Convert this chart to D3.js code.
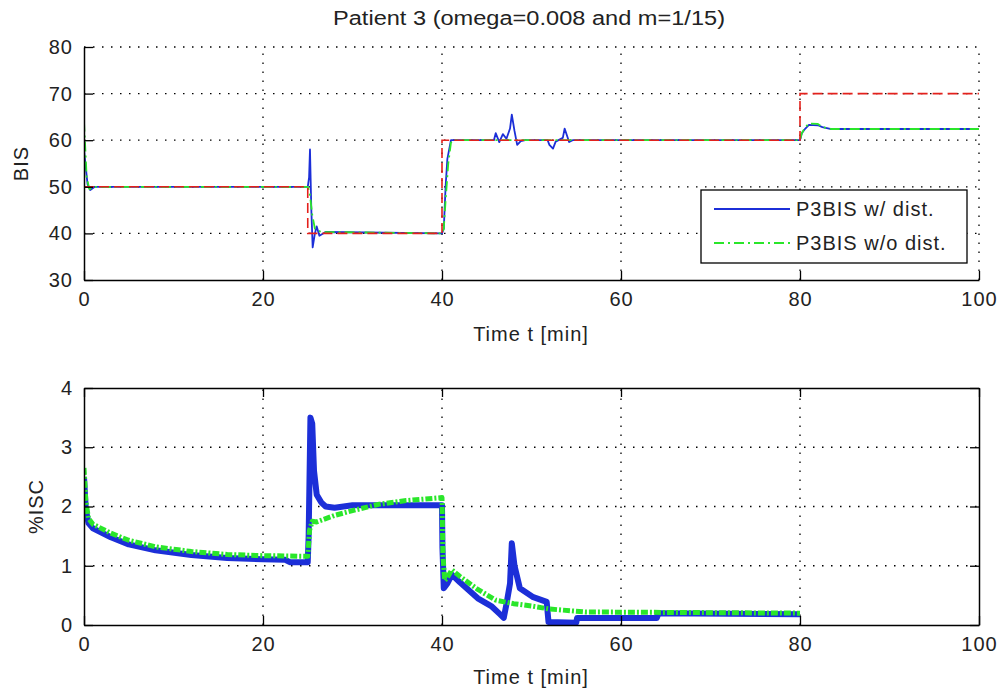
<!DOCTYPE html>
<html>
<head>
<meta charset="utf-8">
<script src="https://cdn.jsdelivr.net/npm/d3@7"></script>
<style>
  body { margin: 0; background: #fff; }
  svg text { font-family: "Liberation Sans", Arial, sans-serif; fill: #222; }
</style>
</head>
<body>
<div id="chart"></div>
<script>
// ---- data ----
var xTicks = [0, 20, 40, 60, 80, 100];
var bisTicks = [30, 40, 50, 60, 70, 80];
var iscTicks = [0, 1, 2, 3, 4];

// BIS reference (step target)
var refT = [0, 25, 40, 80, 100];
var refBis = [50, 40, 60, 70, 70];

// BIS with disturbance [t, BIS]
var bisWithDist = [
  [0, 58], [0.15, 55], [0.4, 50.5], [0.7, 49.3], [1.2, 50], [25, 50],
  [25.15, 52], [25.25, 58], [25.4, 45], [25.55, 37], [25.8, 40], [26, 41.5],
  [26.3, 39.5], [27, 40.3], [40, 40], [40.2, 41], [40.4, 50], [40.6, 56],
  [41, 60], [45.8, 60], [46, 61.5], [46.4, 59.6], [46.8, 61.3], [47.2, 60.3],
  [47.6, 62.5], [47.8, 65.5], [48.1, 62], [48.4, 59], [48.8, 59.8], [49.3, 60],
  [51.8, 60], [52, 59], [52.4, 58.2], [52.7, 59.7], [53.5, 60.5], [53.7, 62.5],
  [54, 60.8], [54.2, 59.6], [54.6, 60], [80, 60], [80.2, 61.5], [80.6, 62.5],
  [81, 63.3], [82, 63.2], [82.5, 62.8], [83.5, 62.4], [100, 62.4]
];

// BIS without disturbance [t, BIS]
var bisWithoutDist = [
  [0, 64], [0.1, 60], [0.3, 52], [0.6, 49.5], [1.2, 50], [25, 50],
  [25.2, 49], [25.5, 44], [25.8, 41], [26.5, 40.3], [40, 40], [40.2, 41],
  [40.4, 47], [40.7, 55], [41, 59.5], [41.5, 60], [80, 60], [80.2, 61.5],
  [80.6, 62.8], [81, 63.6], [82, 63.5], [82.5, 62.8], [83.5, 62.4], [100, 62.4]
];

// %ISC with disturbance [t, %ISC]
var iscWithDist = [
  [0, 2.5], [0.2, 1.95], [0.5, 1.72], [1, 1.63], [3, 1.48], [5, 1.36],
  [8, 1.26], [12, 1.18], [16, 1.13], [20, 1.11], [22.5, 1.1], [23, 1.06],
  [25, 1.06], [25.1, 1.5], [25.3, 3.5], [25.5, 3.4], [25.7, 2.6], [26, 2.2],
  [26.5, 2.07], [27, 2.0], [28, 1.98], [30, 2.02], [40, 2.02], [40.05, 1.3],
  [40.2, 0.62], [40.6, 0.7], [41.1, 0.85], [42, 0.72], [44, 0.45], [45.5, 0.32],
  [46.5, 0.18], [46.9, 0.12], [47.2, 0.35], [47.6, 0.7], [47.8, 1.38], [48.1, 1.0],
  [48.7, 0.62], [50.2, 0.47], [51.7, 0.39], [51.9, 0.05], [55, 0.04], [55.1, 0.12],
  [64, 0.12], [64.2, 0.2], [80, 0.18]
];

// %ISC without disturbance [t, %ISC]
var iscWithoutDist = [
  [0, 2.65], [0.2, 2.1], [0.5, 1.8], [1, 1.7], [3, 1.55], [5, 1.43],
  [8, 1.32], [12, 1.24], [16, 1.19], [20, 1.17], [25, 1.16], [25.2, 1.6],
  [25.5, 1.75], [26, 1.74], [28, 1.85], [30, 1.93], [33, 2.04], [36, 2.1],
  [40, 2.15], [40.1, 1.2], [40.3, 0.75], [40.6, 0.8], [41.1, 0.93], [42, 0.82],
  [44, 0.6], [46, 0.42], [48, 0.36], [50, 0.32], [52, 0.27], [56, 0.22], [80, 0.2]
];

var legendNames = ["P3BIS w/ dist.", "P3BIS w/o dist."];
var titleText = "Patient 3 (omega=0.008 and m=1/15)";

// ---- layout ----
var W = 998, H = 692;
var left = 84, right = 979;
var topPanel = { top: 47, bottom: 280 };
var botPanel = { top: 388, bottom: 625 };

var blue = "#1c2fd8", green = "#2ae62a", red = "#e3211c";
var dotted = "1.5,7.5";

var svg = d3.select("#chart").append("svg")
  .attr("width", W).attr("height", H);

var x = d3.scaleLinear().domain([0, 100]).range([left, right]);
var yBis = d3.scaleLinear().domain([30, 80]).range([topPanel.bottom, topPanel.top]);
var yIsc = d3.scaleLinear().domain([0, 4]).range([botPanel.bottom, botPanel.top]);

// clip paths
[["clipTop", topPanel], ["clipBot", botPanel]].forEach(function (c) {
  svg.append("clipPath").attr("id", c[0]).append("rect")
    .attr("x", left).attr("y", c[1].top - 2)
    .attr("width", right - left + 2).attr("height", c[1].bottom - c[1].top + 4);
});

function grid(y, yVals, xVals, p) {
  var g = svg.append("g").attr("class", "grid")
    .attr("stroke", "#000").attr("stroke-width", 1.3)
    .attr("stroke-dasharray", dotted);
  g.selectAll("line.h").data(yVals).enter().append("line")
    .attr("x1", left).attr("x2", right)
    .attr("y1", function (d) { return y(d); }).attr("y2", function (d) { return y(d); });
  g.selectAll("line.v").data(xVals).enter().append("line")
    .attr("y1", p.bottom).attr("y2", p.top)
    .attr("x1", function (d) { return x(d); }).attr("x2", function (d) { return x(d); });
}

function styleAxis(g, labels) {
  g.select(".domain").attr("stroke", "#000").attr("stroke-width", 1.5);
  g.selectAll(".tick line").attr("stroke", "#000").attr("stroke-width", 1.3);
  g.selectAll(".tick text").attr("font-size", 20).attr("letter-spacing", 1)
    .attr("fill", "#222");
  if (!labels) g.selectAll(".tick text").remove();
}

function axes(y, yVals, p, box) {
  var fmt = d3.format("d");
  var gx = svg.append("g").attr("transform", "translate(0," + p.bottom + ")")
    .call(d3.axisBottom(x).tickValues(xTicks).tickFormat(fmt)
      .tickSizeInner(-9).tickSizeOuter(0).tickPadding(12));
  styleAxis(gx, true);
  var gy = svg.append("g").attr("transform", "translate(" + left + ",0)")
    .call(d3.axisLeft(y).tickValues(yVals).tickFormat(fmt)
      .tickSizeInner(-9).tickSizeOuter(0).tickPadding(11));
  styleAxis(gy, true);
  if (box) {
    var gt = svg.append("g").attr("transform", "translate(0," + p.top + ")")
      .call(d3.axisTop(x).tickValues(xTicks).tickSizeInner(-9).tickSizeOuter(0));
    styleAxis(gt, false);
    var gr = svg.append("g").attr("transform", "translate(" + right + ",0)")
      .call(d3.axisRight(y).tickValues(yVals).tickSizeInner(-9).tickSizeOuter(0));
    styleAxis(gr, false);
  }
}

function drawLine(data, y, clip, color, width, dash) {
  var line = d3.line()
    .x(function (d) { return x(d[0]); })
    .y(function (d) { return y(d[1]); });
  svg.append("path")
    .datum(data)
    .attr("clip-path", "url(#" + clip + ")")
    .attr("fill", "none")
    .attr("stroke", color)
    .attr("stroke-width", width)
    .attr("stroke-linejoin", "round")
    .attr("stroke-dasharray", dash || null)
    .attr("d", line);
}

// ---------- top panel: BIS ----------
grid(yBis, [40, 50, 60, 70, 80], [20, 40, 60, 80, 100], topPanel);

drawLine(bisWithDist, yBis, "clipTop", blue, 1.8);
drawLine(bisWithoutDist, yBis, "clipTop", green, 1.8, "10,4,2,4");

var refLine = d3.line()
  .x(function (d, i) { return x(refT[i]); })
  .y(function (d) { return yBis(d); })
  .curve(d3.curveStepAfter);
svg.append("path")
  .datum(refBis)
  .attr("clip-path", "url(#clipTop)")
  .attr("fill", "none")
  .attr("stroke", red)
  .attr("stroke-width", 1.6)
  .attr("stroke-dasharray", "10,5")
  .attr("d", refLine);

axes(yBis, bisTicks, topPanel, false);

// ---------- bottom panel: %ISC ----------
grid(yIsc, [1, 2, 3], [20, 40, 60, 80], botPanel);

drawLine(iscWithDist, yIsc, "clipBot", blue, 6);
drawLine(iscWithoutDist, yIsc, "clipBot", green, 5, "7,2,2,2");

axes(yIsc, iscTicks, botPanel, true);

// ---------- texts ----------
svg.append("text")
  .attr("x", 529).attr("y", 25)
  .attr("text-anchor", "middle")
  .attr("font-size", 20)
  .attr("textLength", 392)
  .attr("lengthAdjust", "spacingAndGlyphs")
  .text(titleText);

[341, 684].forEach(function (yy) {
  svg.append("text")
    .attr("x", 531).attr("y", yy)
    .attr("text-anchor", "middle")
    .attr("font-size", 20).attr("letter-spacing", 1)
    .text("Time t [min]");
});

svg.append("text")
  .attr("transform", "translate(28," + ((topPanel.top + topPanel.bottom) / 2) + ") rotate(-90)")
  .attr("text-anchor", "middle")
  .attr("font-size", 20).attr("letter-spacing", 1)
  .text("BIS");

svg.append("text")
  .attr("transform", "translate(43," + ((botPanel.top + botPanel.bottom) / 2) + ") rotate(-90)")
  .attr("text-anchor", "middle")
  .attr("font-size", 20).attr("letter-spacing", 1)
  .text("%ISC");

// ---------- legend ----------
var lg = svg.append("g").attr("transform", "translate(701,190)");
lg.append("rect")
  .attr("width", 266).attr("height", 73)
  .attr("fill", "#fff").attr("stroke", "#000").attr("stroke-width", 1.3);

var legendStyles = [
  { color: blue, dash: null },
  { color: green, dash: "10,4,2,4" }
];
legendNames.forEach(function (name, i) {
  var yy = 19 + i * 34;
  lg.append("line")
    .attr("x1", 13).attr("x2", 89).attr("y1", yy).attr("y2", yy)
    .attr("stroke", legendStyles[i].color).attr("stroke-width", 1.8)
    .attr("stroke-dasharray", legendStyles[i].dash);
  lg.append("text")
    .attr("x", 95).attr("y", yy + 7)
    .attr("font-size", 20).attr("letter-spacing", 1)
    .text(name);
});
</script>
</body>
</html>
